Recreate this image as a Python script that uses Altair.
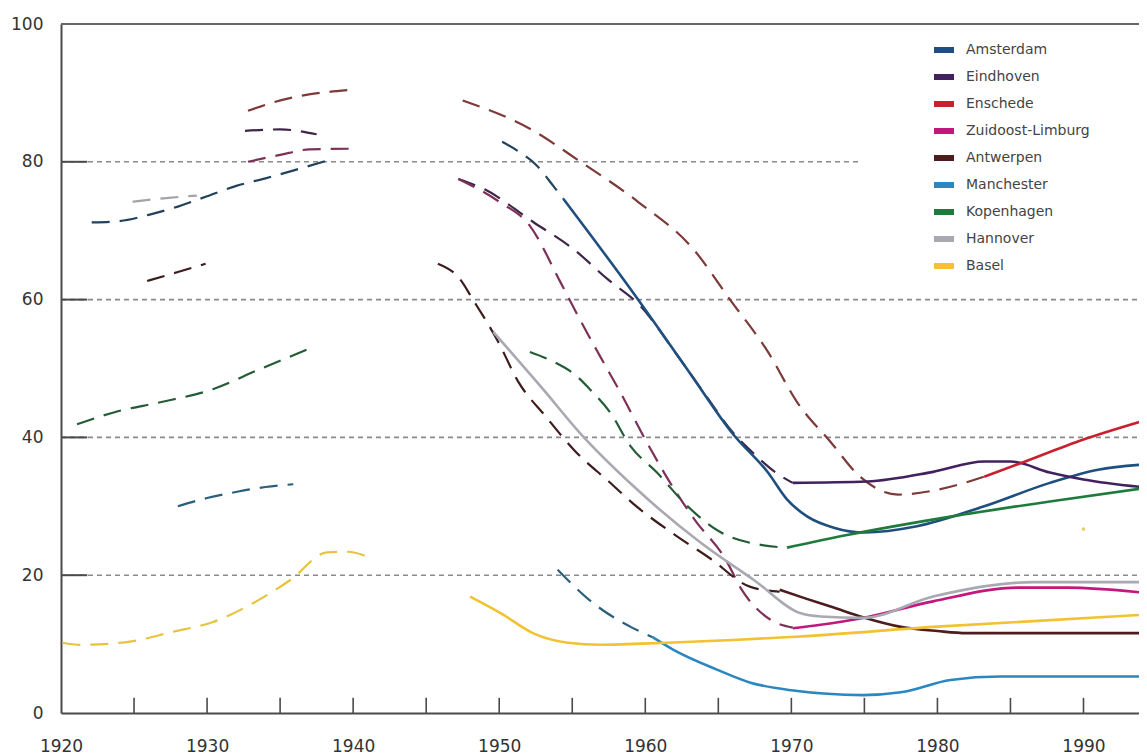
import altair as alt
import pandas as pd

CITIES = ["Amsterdam", "Eindhoven", "Enschede", "Zuidoost-Limburg", "Antwerpen",
          "Manchester", "Kopenhagen", "Hannover", "Basel"]
SOLID_COLORS = ["#1f4f7e", "#43215f", "#c8202e", "#c2187e", "#4d1c1c",
                "#2a87c2", "#1f7b3d", "#a9a9b1", "#f2c230"]
DASH_COLORS = ["#22425e", "#3e2648", "#7c3a38", "#7e3158", "#3d1c1c",
               "#2a5f7c", "#235c36", "#a3a3aa", "#e6c440"]

# (year, share)
AMS_PRE = [(1922.1, 71.2), (1924, 71.4), (1926, 72.3), (1928, 73.5), (1930, 75.0),
           (1932, 76.5), (1934, 77.6), (1936, 78.8), (1938.6, 80.4)]
AMS_DASH = [(1950.2, 82.9), (1951.4, 81.4), (1952.6, 79.4), (1953.7, 76.5), (1954.4, 74.6)]
AMS_SOLID = [(1954.4, 74.6), (1959, 61.5), (1963, 49.5), (1966, 40.5), (1968.4, 34.9),
             (1969.7, 31.0), (1971.1, 28.5), (1972.9, 26.9), (1975, 26.2), (1978.6, 27.1),
             (1983.2, 30.0), (1987.7, 33.4), (1991, 35.3), (1994.4, 36.1)]

EIN_PRE = [(1932.6, 84.5), (1935, 84.7), (1937.5, 84.0)]
EIN_DASH = [(1947.2, 77.5), (1949, 76.0), (1952.3, 71.3), (1955.1, 67.3), (1957.4, 63.0),
            (1959.7, 59.0), (1962, 52.5), (1964, 46.5), (1966, 40.7), (1967.5, 37.5),
            (1969, 34.8), (1970.1, 33.4)]
EIN_SOLID = [(1970.1, 33.4), (1975.2, 33.6), (1979.7, 35.0), (1983.2, 36.5), (1985, 36.5),
             (1987.7, 34.9), (1990, 33.9), (1994.4, 32.7)]

ENS_PRE = [(1932.8, 87.4), (1934.5, 88.6), (1936.5, 89.6), (1939.6, 90.4)]
ENS_DASH = [(1947.5, 88.9), (1952.1, 84.8), (1955.5, 80.1), (1959.5, 74.2), (1963.3, 67.3),
            (1965.8, 60.0), (1968.4, 52.4), (1970.4, 45.1), (1972.7, 39.3), (1974.7, 34.3),
            (1977.3, 31.7), (1980, 32.4), (1983.2, 34.3)]
ENS_SOLID = [(1983.2, 34.3), (1985.5, 36.1), (1990, 39.7), (1994.4, 42.6)]

ZL_PRE = [(1932.8, 80.0), (1935, 81.0), (1937, 81.8), (1940.1, 81.9)]
ZL_DASH = [(1947.2, 77.5), (1950, 74.2), (1952.1, 70.7), (1954.2, 62.5), (1955.5, 57.2),
           (1956.9, 51.8), (1958.3, 46.5), (1960, 39.7), (1962, 32.4), (1963.4, 28.0),
           (1965.5, 22.3), (1966.6, 17.9), (1968.6, 13.5), (1970.1, 12.4)]
ZL_SOLID = [(1970.1, 12.3), (1972, 12.8), (1974.9, 13.8), (1979.7, 16.2), (1985.5, 18.2),
            (1988.9, 18.2), (1994.4, 17.4)]

ANT_PRE = [(1925.9, 62.7), (1928, 64.0), (1929.9, 65.2)]
ANT_DASH = [(1945.8, 65.2), (1947.3, 63.0), (1948.2, 60.0), (1949.9, 54.0), (1951.3, 48.1),
            (1953.2, 43.0), (1955.2, 38.0), (1957.5, 33.6), (1959.5, 29.8), (1962, 25.9),
            (1964.4, 22.5), (1967.2, 18.3), (1969.2, 17.6)]
ANT_SOLID = [(1969.2, 17.9), (1971, 16.6), (1972.9, 15.3), (1974.9, 13.9), (1977.5, 12.5),
             (1980, 11.9), (1982, 11.6), (1994.4, 11.6)]

MAN_PRE = [(1928, 30.0), (1930, 31.2), (1931.8, 32.0), (1934, 32.8), (1935.9, 33.2)]
MAN_DASH = [(1954, 20.8), (1956.4, 16.0), (1959, 12.5), (1960.5, 11.0)]
MAN_SOLID = [(1960.5, 11.0), (1961.9, 9.2), (1964.9, 6.3), (1967.2, 4.4), (1970, 3.3),
             (1974.9, 2.6), (1977.5, 3.0), (1980.9, 4.8), (1984.3, 5.3), (1994.4, 5.3)]

KOP_PRE = [(1921.1, 41.9), (1923.9, 43.8), (1926.8, 45.1), (1930.4, 47.0), (1933.5, 49.8),
           (1936.9, 52.8)]
KOP_DASH = [(1952.1, 52.4), (1953.7, 51.0), (1955.3, 48.9), (1956.2, 47.0), (1957.6, 43.6),
            (1959, 38.7), (1960.8, 34.9), (1962.9, 30.0), (1965.1, 26.3), (1967.9, 24.4),
            (1969.7, 24.0)]
KOP_SOLID = [(1969.7, 24.0), (1974, 25.9), (1980.9, 28.5), (1987.7, 30.7), (1994.4, 32.7)]

HAN_PRE = [(1924.9, 74.2), (1927, 74.7), (1929.3, 75.1)]
HAN_SOLID = [(1949.6, 55.3), (1953, 47.0), (1955.5, 40.7), (1959.2, 32.9), (1963.8, 24.7),
             (1967.5, 19.2), (1970.6, 14.5), (1972, 14.0), (1974.9, 13.8), (1979.7, 16.9),
             (1986.6, 19.0), (1994.4, 19.0)]

BAS_PRE = [(1920.1, 10.2), (1921.3, 9.9), (1924.5, 10.3), (1927.7, 11.8), (1930.4, 13.2),
           (1933.2, 16.0), (1935.7, 19.3), (1938.2, 23.3), (1939.6, 23.4), (1941.2, 22.5)]
BAS_SOLID = [(1948, 16.9), (1950.1, 14.5), (1952.3, 11.6), (1954.7, 10.2), (1956.9, 9.9),
             (1961.5, 10.2), (1966, 10.6), (1970.6, 11.1), (1979.7, 12.5), (1994.4, 14.3)]
BAS_DOT = [(1990, 26.7)]

SEGMENTS = [
    ("Amsterdam", "dash", AMS_PRE), ("Amsterdam", "dash", AMS_DASH), ("Amsterdam", "solid", AMS_SOLID),
    ("Eindhoven", "dash", EIN_PRE), ("Eindhoven", "dash", EIN_DASH), ("Eindhoven", "solid", EIN_SOLID),
    ("Enschede", "dash", ENS_PRE), ("Enschede", "dash", ENS_DASH), ("Enschede", "solid", ENS_SOLID),
    ("Zuidoost-Limburg", "dash", ZL_PRE), ("Zuidoost-Limburg", "dash", ZL_DASH),
    ("Zuidoost-Limburg", "solid", ZL_SOLID),
    ("Antwerpen", "dash", ANT_PRE), ("Antwerpen", "dash", ANT_DASH), ("Antwerpen", "solid", ANT_SOLID),
    ("Manchester", "dash", MAN_PRE), ("Manchester", "dash", MAN_DASH), ("Manchester", "solid", MAN_SOLID),
    ("Kopenhagen", "dash", KOP_PRE), ("Kopenhagen", "dash", KOP_DASH), ("Kopenhagen", "solid", KOP_SOLID),
    ("Hannover", "dash", HAN_PRE), ("Hannover", "solid", HAN_SOLID),
    ("Basel", "dash", BAS_PRE), ("Basel", "solid", BAS_SOLID),
]

GRID_LEVELS = [20, 40, 60, 80]
GRID_END = [1993.8, 1993.8, 1993.8, 1974.6]
TICK_YEARS = [1925, 1930, 1935, 1940, 1945, 1950, 1955, 1960, 1965, 1970, 1975, 1980, 1985, 1990]
X_LABELS = [1920, 1930, 1940, 1950, 1960, 1970, 1980, 1990]
Y_LABELS = [0, 20, 40, 60, 80, 100]

rows = []
for i, (city, style, pts) in enumerate(SEGMENTS):
    for yr, v in pts:
        rows.append({"city": city, "city_d": city, "style": style, "seg": f"s{i}",
                     "year": yr, "value": v})
df = pd.DataFrame(rows)
df_dash = df[df["style"] == "dash"]
df_solid = df[df["style"] == "solid"]

grid_df = pd.DataFrame({"level": GRID_LEVELS, "start": [1920] * 4, "end": GRID_END})
ytick_df = pd.DataFrame({"level": GRID_LEVELS, "start": [1920] * 4, "end": [1921.8] * 4})
xtick_df = pd.DataFrame({"year": TICK_YEARS, "lo": [0] * len(TICK_YEARS), "hi": [2.2] * len(TICK_YEARS)})
dot_df = pd.DataFrame({"year": [p[0] for p in BAS_DOT], "value": [p[1] for p in BAS_DOT]})

FONT = "DejaVu Sans"
xscale = alt.Scale(domain=[1920, 1993.8], nice=False, zero=False)
yscale = alt.Scale(domain=[0, 100], nice=False)

xaxis = alt.Axis(values=X_LABELS, format="d", ticks=False, grid=False, title=None,
                 domainColor="#4a4a4a", domainWidth=2, labelFont=FONT, labelFontSize=17,
                 labelColor="#333333", labelPadding=25, labelFlush=False, labelOverlap=False)
yaxis = alt.Axis(values=Y_LABELS, ticks=False, grid=False, title=None,
                 domainColor="#4a4a4a", domainWidth=2, labelFont=FONT, labelFontSize=17,
                 labelColor="#333333", labelPadding=18)

X = alt.X("year:Q", scale=xscale, axis=xaxis)
Y = alt.Y("value:Q", scale=yscale, axis=yaxis)

grid = alt.Chart(grid_df).mark_rule(color="#8a8a8a", strokeWidth=1.6, strokeDash=[5, 4]).encode(
    x=alt.X("start:Q", scale=xscale, axis=xaxis), x2="end:Q",
    y=alt.Y("level:Q", scale=yscale, axis=yaxis))
yticks = alt.Chart(ytick_df).mark_rule(color="#4a4a4a", strokeWidth=2).encode(
    x="start:Q", x2="end:Q", y="level:Q")
xticks = alt.Chart(xtick_df).mark_rule(color="#4a4a4a", strokeWidth=1.6).encode(
    x="year:Q", y="lo:Q", y2="hi:Q")
top = alt.Chart(grid_df).mark_rule(color="#666666", strokeWidth=1.6).encode(y=alt.datum(100))

dashed = alt.Chart(df_dash).mark_line(interpolate="monotone", strokeWidth=2.2,
                                      strokeDash=[18, 10], clip=True).encode(
    x=X, y=Y,
    stroke=alt.Stroke("city_d:N", scale=alt.Scale(domain=CITIES, range=DASH_COLORS), legend=None),
    detail="seg:N")

solid = alt.Chart(df_solid).mark_line(interpolate="monotone", strokeWidth=2.6, clip=True).encode(
    x=X, y=Y,
    color=alt.Color("city:N", scale=alt.Scale(domain=CITIES, range=SOLID_COLORS),
                    legend=alt.Legend(title=None, orient="none", legendX=870, legendY=13,
                                      symbolType="stroke", symbolStrokeWidth=6, symbolSize=400,
                                      labelFont=FONT, labelFontSize=14, labelColor="#444444",
                                      labelOffset=9, rowPadding=2, padding=0)),
    detail="seg:N")

dot = alt.Chart(dot_df).mark_point(filled=True, size=14, color="#e6c440", opacity=0.8).encode(
    x="year:Q", y="value:Q")

chart = alt.layer(grid, yticks, xticks, top, dashed, solid, dot).properties(
    width=1078, height=689,
    autosize=alt.AutoSizeParams(type="none"),
    padding={"left": 53, "top": 16, "right": 0, "bottom": 48},
    background="white",
).configure_view(stroke=None).resolve_scale(stroke="independent", color="independent")

chart.save("out.html", embed_options={"renderer": "svg", "actions": False})
